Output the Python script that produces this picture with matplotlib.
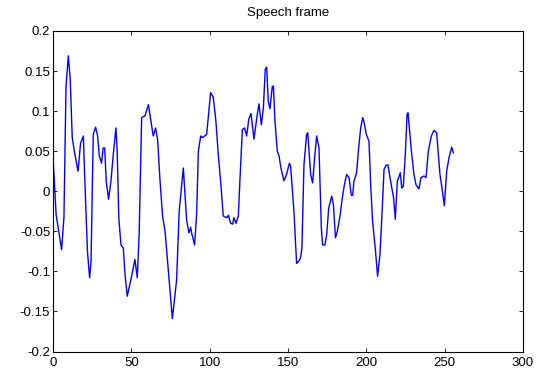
import matplotlib
matplotlib.use("Agg")
import matplotlib.pyplot as plt
from matplotlib.ticker import MultipleLocator, FormatStrFormatter

# speech frame samples: (sample index, amplitude)
sample_idx = [
    0, 2, 4.5, 5.5, 7, 8.3, 9.8, 11, 12.3, 13.8, 16, 17.6, 19.4, 20.2,
    22, 23.4, 24.3, 25.7, 27.2, 28.5, 29.6, 31, 32, 33, 34, 35.5, 37,
    38.5, 40.2, 41, 42, 43.4, 44.9, 46, 47.4, 49, 50.8, 52.3, 53.8, 55,
    56.6, 58.7, 60.9, 62.5, 64, 65.5, 66.8, 68.3, 70, 71.5, 76.2, 78.9,
    80.6, 82.5, 83.2, 85.3, 86.8, 87.9, 88.5, 90.4, 91.7, 92.8, 94.3,
    95.5, 98.1, 100.6, 102.3, 104, 105.5, 107, 108.7, 111, 112, 113.4,
    114.7, 115.5, 116.8, 118.3, 119.4, 120.9, 122.3, 123.6, 125, 126.4,
    128.3, 130.4, 131.5, 133, 134.3, 135.5, 136.4, 137.4, 138.5, 140,
    140.7, 141.7, 143.2, 144.3, 145.5, 147.4, 149.1, 150.9, 151.7, 153.8,
    155.5, 157, 158, 158.9, 160.2, 161.9, 162.6, 164.5, 165.7, 167.2,
    168.3, 169.8, 171.3, 172.1, 173.6, 174.7, 176, 177.9, 179, 180.3,
    181.5, 183.2, 184.7, 186, 187.4, 189, 190.4, 191.3, 192.1, 193.8,
    195.1, 196.4, 197.7, 198.7, 200, 201.7, 202.8, 204, 205.7, 207.2,
    208.7, 210, 211.3, 212.6, 213.8, 215.5, 217.4, 218.5, 219.8, 221.7,
    222.6, 223.6, 224.9, 226, 226.6, 227.9, 229, 230.4, 231.7, 233.6,
    234.9, 236.8, 238.1, 239.6, 241.5, 243.2, 244.9, 247, 248.3, 249.8,
    251.3, 252.8, 254.5, 255.6,
]
amplitude = [
    0.044, -0.029, -0.060, -0.073, -0.033, 0.130, 0.169, 0.140, 0.067,
    0.048, 0.025, 0.060, 0.069, 0.020,
    -0.075, -0.108, -0.088, 0.071, 0.080, 0.069, 0.044, 0.035, 0.054,
    0.054, 0.0125, -0.010, 0.0125,
    0.046, 0.079, 0.050, -0.033, -0.067, -0.071, -0.104, -0.131, -0.117,
    -0.100, -0.085, -0.108, -0.054,
    0.092, 0.094, 0.108, 0.0875, 0.069, 0.079, 0.064, 0.014, -0.032,
    -0.049, -0.159, -0.111,
    -0.024, 0.014, 0.029, -0.036, -0.052, -0.045, -0.052, -0.067, -0.028,
    0.050, 0.069,
    0.067, 0.071, 0.123, 0.1175, 0.0875, 0.046, 0.0125, -0.031, -0.033,
    -0.030, -0.040,
    -0.041, -0.033, -0.040, -0.031, 0.017, 0.077, 0.079, 0.069, 0.090,
    0.097,
    0.065, 0.096, 0.109, 0.083, 0.104, 0.152, 0.155, 0.1125, 0.103, 0.131,
    0.131, 0.0875, 0.050, 0.044, 0.029, 0.013, 0.021, 0.035, 0.031, -0.025,
    -0.090, -0.087, -0.083, -0.071, 0.033, 0.071, 0.073, 0.021, 0.0104,
    0.046,
    0.069, 0.054, -0.046, -0.067, -0.067, -0.054, -0.021, -0.006, -0.017,
    -0.058,
    -0.050, -0.031, -0.008, 0.008, 0.021, 0.017, -0.005, -0.005, 0.0125,
    0.023,
    0.054, 0.079, 0.092, 0.085, 0.071, 0.0625, 0.008, -0.0375, -0.071,
    -0.106,
    -0.079, -0.029, 0.027, 0.0325, 0.033, 0.0125, -0.008, -0.035, 0.0125,
    0.023,
    0.004, 0.006, 0.046, 0.096, 0.098, 0.069, 0.046, 0.021, 0.008, 0.003,
    0.017, 0.019, 0.017, 0.050, 0.069, 0.076, 0.073, 0.021, 0.004, -0.018,
    0.025, 0.042, 0.055, 0.048,
]

plt.rcParams['font.family'] = ['Liberation Sans', 'DejaVu Sans']
plt.rcParams['font.size'] = 9.5

fig = plt.figure(figsize=(5.45, 3.73), dpi=100)
ax = fig.add_axes([0.0972, 0.0576, 0.8624, 0.8593])
ax.plot(sample_idx, amplitude, color='#0000ff', linewidth=1.0)

ax.set_xlim(0, 300)
ax.set_ylim(-0.2, 0.2)
ax.xaxis.set_major_locator(MultipleLocator(50))
ax.yaxis.set_major_locator(MultipleLocator(0.05))
ax.yaxis.set_major_formatter(FormatStrFormatter('%g'))
ax.tick_params(direction='in', length=3, width=0.6, top=True, right=True,
               labelsize=9.5)
ax.tick_params(axis='x', pad=4)
ax.tick_params(axis='y', pad=2)
for s in ax.spines.values():
    s.set_linewidth(0.8)
ax.set_title('Speech frame', fontsize=9.5, pad=11)

fig.savefig('out.png', dpi=100)
